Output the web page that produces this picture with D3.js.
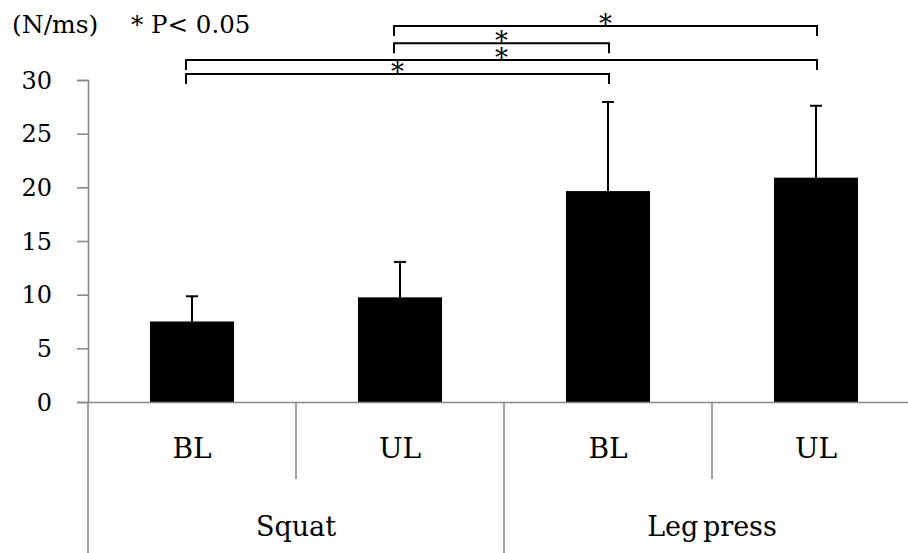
<!DOCTYPE html>
<html>
<head>
<meta charset="utf-8">
<script src="https://cdn.jsdelivr.net/npm/d3@7"></script>
<style>
  body { margin: 0; background: #fff; }
  svg { display: block; }
  text { font-family: "DejaVu Serif", serif; fill: #000; }
</style>
</head>
<body>
<svg id="chart" width="908" height="553"></svg>
<script>
// Rate of force development, mean + SD, per exercise and condition
const conditions = ["BL", "UL", "BL", "UL"];
const exercises = ["Squat", "Leg press"];
const exerciseOf = [0, 0, 1, 1];
const means = [7.5, 9.75, 19.65, 20.9];
const sds = [2.35, 3.3, 8.3, 6.7];
const yTicks = [0, 5, 10, 15, 20, 25, 30];
// significant pairwise comparisons (bar index pairs), drawn top to bottom
const comparisons = [[1, 3], [1, 2], [0, 3], [0, 2]];
const unitLabel = "(N/ms)";
const sigLabel = "* P< 0.05";

const svg = d3.select("#chart");
const axisColor = "#898989";

const left = 88, right = 920, baseY = 402, topY = 80;

const x = d3.scaleBand()
  .domain(d3.range(conditions.length))
  .range([left, right])
  .paddingInner(0.596)
  .paddingOuter(0.298);

const y = d3.scaleLinear().domain([0, 30]).range([baseY, topY]);

// y axis
const yAxis = svg.append("g")
  .attr("transform", `translate(${left},0)`)
  .call(d3.axisLeft(y).tickValues(yTicks).tickSize(11).tickSizeOuter(11).tickPadding(25));
yAxis.selectAll("path, line").attr("stroke", axisColor).attr("stroke-width", 1.6);
yAxis.selectAll("text").style("font-size", "24px").attr("dy", "0.34em");

// bars
svg.append("g").selectAll("rect")
  .data(means)
  .join("rect")
  .attr("x", (d, i) => x(i))
  .attr("y", d => y(d))
  .attr("width", x.bandwidth())
  .attr("height", d => baseY - y(d))
  .attr("fill", "#000");

// upper error bars
const eb = svg.append("g").attr("stroke", "#000").attr("stroke-width", 2);
means.forEach((m, i) => {
  const cx = x(i) + x.bandwidth() / 2;
  eb.append("line").attr("x1", cx).attr("x2", cx).attr("y1", y(m)).attr("y2", y(m + sds[i]));
  eb.append("line").attr("x1", cx - 6).attr("x2", cx + 6).attr("y1", y(m + sds[i])).attr("y2", y(m + sds[i]));
});

// category axis: baseline, separators and labels
const xAxis = svg.append("g")
  .attr("transform", `translate(0,${baseY})`)
  .call(d3.axisBottom(x).tickSize(0).tickSizeOuter(0).tickFormat(i => conditions[i]));
xAxis.select(".domain").attr("stroke", axisColor).attr("stroke-width", 1.6);
xAxis.selectAll("text").style("font-size", "28px").attr("y", 56).attr("dy", null);

const sep = svg.append("g").attr("stroke", axisColor).attr("stroke-width", 1.6);
d3.range(conditions.length + 1).forEach(k => {
  const xb = left + k * x.step();
  const groupEdge = k === 0 || k === conditions.length || exerciseOf[k] !== exerciseOf[k - 1];
  sep.append("line")
    .attr("x1", xb).attr("x2", xb)
    .attr("y1", baseY).attr("y2", groupEdge ? 553 : 479);
});

const xg = d3.scaleBand().domain(exercises).range([left, right]);
svg.append("g").selectAll("text")
  .data(exercises)
  .join("text")
  .attr("x", d => xg(d) + xg.bandwidth() / 2)
  .attr("y", 536)
  .attr("text-anchor", "middle")
  .style("font-size", "27px")
  .style("word-spacing", "-4px")
  .text(d => d);

// significance brackets
const bracketY = [26, 43.3, 60, 74];
const legLen = 10;
const br = svg.append("g");
comparisons.forEach(([a, b], k) => {
  const xa = x(a) + x.bandwidth() / 2 - 6;
  const xb = x(b) + x.bandwidth() / 2 + 1;
  const by = bracketY[k];
  br.append("path")
    .attr("d", `M${xa},${by + legLen}V${by}H${xb}V${by + legLen}`)
    .attr("fill", "none")
    .attr("stroke", "#000")
    .attr("stroke-width", 2);
  br.append("text")
    .attr("x", (xa + xb) / 2)
    .attr("y", by + 7)
    .attr("text-anchor", "middle")
    .style("font-size", "26px")
    .text("*");
});

// unit and significance note
svg.append("text").attr("x", 12).attr("y", 33).style("font-size", "25px").text(unitLabel);
svg.append("text").attr("x", 131).attr("y", 33).style("font-size", "24.5px").text(sigLabel);
</script>
</body>
</html>
